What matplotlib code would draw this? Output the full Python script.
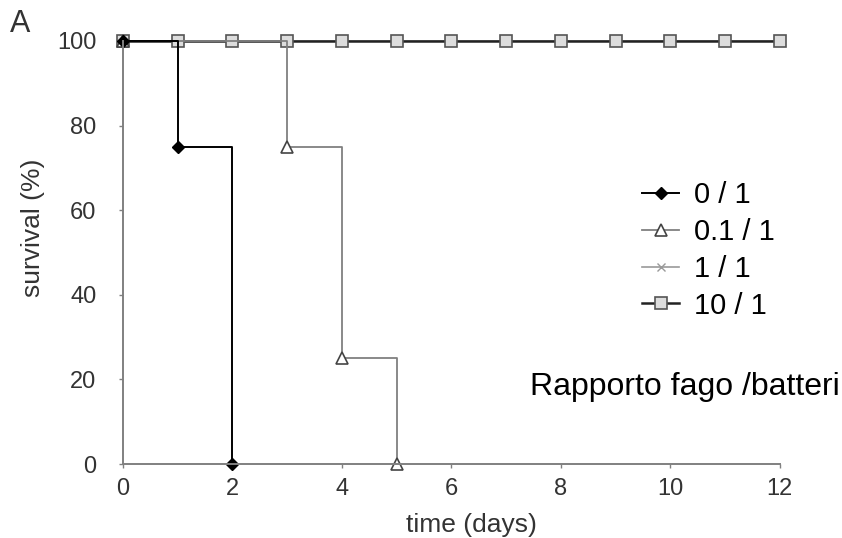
import matplotlib
matplotlib.use('Agg')
import matplotlib.pyplot as plt

plt.rcParams['font.family'] = ['Liberation Sans', 'DejaVu Sans']

# survival data (time in days, survival in %)
days_0 = [0, 1, 2]
surv_0 = [100, 75, 0]

days_01 = [0, 3, 4, 5]
surv_01 = [100, 75, 25, 0]

days_1 = list(range(0, 13))
surv_1 = [100] * 13

days_10 = list(range(0, 13))
surv_10 = [100] * 13

labels = ['0 / 1', '0.1 / 1', '1 / 1', '10 / 1']

fig = plt.figure(figsize=(8.42, 5.38), dpi=100)
ax = fig.add_axes([0.146, 0.1375, 0.78, 0.7865])

gray = '#808080'
txt = '#333333'

l1, = ax.step(days_1, surv_1, where='post', color='#999999', lw=1.2,
              marker='x', ms=6, mec='#999999', clip_on=False)
l10, = ax.step(days_10, surv_10, where='post', color='#222222', lw=1.8,
               marker='s', ms=8, mfc='#dddddd', mec='#555555', mew=1.2, clip_on=False)
l01, = ax.step(days_01, surv_01, where='post', color=gray, lw=1.3,
               marker='^', ms=8, mfc='white', mec='#444444', mew=1.2, clip_on=False)
l0, = ax.step(days_0, surv_0, where='post', color='black', lw=1.4,
              marker='D', ms=6, mfc='black', mec='black', clip_on=False)

ax.set_xlim(0, 12)
ax.set_ylim(0, 100)
ax.set_xticks(range(0, 13, 2))
ax.set_yticks(range(0, 101, 20))
ax.tick_params(axis='y', labelsize=17, length=3, width=1, color=gray,
               labelcolor=txt, pad=16)
ax.tick_params(axis='x', labelsize=17, length=3, width=1, color=gray,
               labelcolor=txt, pad=7)
for s in ['top', 'right']:
    ax.spines[s].set_visible(False)
for s in ['left', 'bottom']:
    ax.spines[s].set_color(gray)
    ax.spines[s].set_linewidth(1.4)
ax.set_xlabel('time (days)', fontsize=19, color=txt)
ax.set_ylabel('survival (%)', fontsize=19, color=txt)
ax.xaxis.set_label_coords(0.53, -0.115)
ax.yaxis.set_label_coords(-0.118, 0.558)

ax.legend([l0, l01, l1, l10], labels, loc='upper left',
          bbox_to_anchor=(0.791, 0.668), frameon=False, fontsize=21,
          handlelength=1.27, labelspacing=0.3, handletextpad=0.5,
          borderpad=0, borderaxespad=0)

fig.text(0.012, 0.94, 'A', fontsize=22, color=txt)
fig.text(0.63, 0.265, 'Rapporto fago /batteri', fontsize=23, color='black')

fig.savefig('out.png', dpi=100)
